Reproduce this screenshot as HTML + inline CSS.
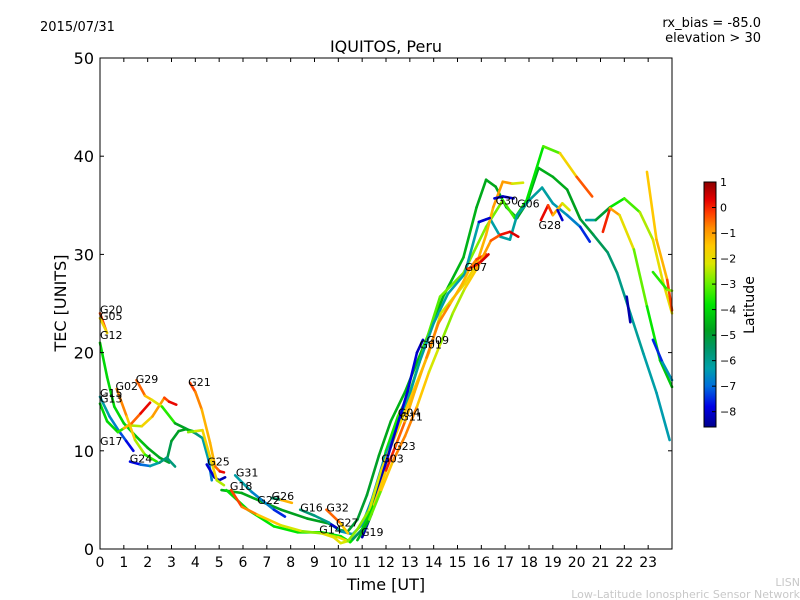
<!DOCTYPE html>
<html><head><meta charset="utf-8"><style>
body{margin:0;background:#fff;}
svg{display:block;font-family:"DejaVu Sans","Liberation Sans",sans-serif;}
</style></head><body>
<svg id="c" width="800" height="600" viewBox="0 0 800 600">
<text x="40" y="31" font-size="13">2015/07/31</text>
<text x="761" y="27" font-size="13" text-anchor="end">rx_bias = -85.0</text>
<text x="761" y="42" font-size="13" text-anchor="end">elevation &gt; 30</text>
<text x="386" y="52" font-size="16" text-anchor="middle">IQUITOS, Peru</text>
<text x="386" y="590" font-size="16" text-anchor="middle">Time [UT]</text>
<text x="0" y="0" font-size="16" text-anchor="middle" transform="translate(66,303) rotate(-90)">TEC [UNITS]</text>
<g id="marks"></g>
<g id="labels"></g>
<g id="axes"></g>
<g id="cbar"></g>
<text x="0" y="0" font-size="14" text-anchor="middle" transform="translate(754,305) rotate(-90)">Latitude</text>
<text x="800" y="586" font-size="11" fill="#c8c8c8" text-anchor="end">LISN</text>
<text x="800" y="598" font-size="11" fill="#c8c8c8" text-anchor="end">Low-Latitude Ionospheric Sensor Network</text>
</svg>
<script>
const xTicks=[0,1,2,3,4,5,6,7,8,9,10,11,12,13,14,15,16,17,18,19,20,21,22,23];
const yTicks=[0,10,20,30,40,50];
const cbTicks=[1,0,-1,-2,-3,-4,-5,-6,-7,-8];
const latMin=-8.6, latMax=1.0;
// tracks: time (UT), TEC, latitude
const trackNames=["G20","G05","G12","G15","G13","G02","Gr1","G29","G12b","G24","G21","G25","Gy1","G18a","TrA","G18b","G31","G26","G16","G32","G27","G14","G19","G03","G23","R1","R2","R3","R4","R5","R6","G30a","G30b","G28","Gb1","G07"];
const trackT=[
[0,0.25],[0,0.3],
[0,0.3,0.6,1,1.5,2,2.5,2.9],
[0,0.4,0.8,1.1,1.4],
[0,0.3,0.75,1.2,1.75,2.2,2.7,2.9,3.2],
[0.7,1.12,1.47,1.89,2.38],
[1.0,1.33,1.7,2.1],
[1.53,1.89,2.17,2.6,3.15,3.57,3.99,4.3,4.55,4.69],
[2.8,3.0,3.3,3.6,3.9],
[1.26,1.7,2.1,2.5,2.8,3.15],
[3.78,4.0,4.27,4.62,4.83,5.03,5.2],
[4.48,4.8,5.0,5.25],
[3.7,4.0,4.3,4.6,4.9,5.2],
[5.1,5.95,6.8,7.6,8.7,9.6,10.1,10.4,10.8,11.2,11.7,12.2,12.8,13.3,13.8,14.4,15.25,15.8,16.2,16.6,17.05,17.5,17.9,18.4,19.0,19.6,20.15,20.7,21.3,21.7,22.25,22.8,23.35,23.9],
[5.3,6.2,7.3,8.3,9.3,10.1,10.5,11,11.5,12,12.5,13,13.4,14.27,15.25,16.2,16.9,17.4,17.9,18.6,19.3,20.0,20.65],
[5.5,5.95,6.6,7.6,8.5,9.3,10.0,10.4],
[5.67,6.37,7.3,7.76],
[7.2,7.6,8.05],
[8.4,9.0,9.6,10.1,10.6,11.0,11.4,11.9,12.4,12.9,13.4,14,14.6,15.3,15.9,16.35,16.8,17.2,17.5,18.0,18.55,19.0,19.6,20.15,20.55],
[9.5,10.1,10.4],
[9.7,9.9],
[9.3,9.8,10.1,10.4,10.8,11.3,11.8,12.3,12.8,13.3,13.8,14.3,14.8,15.3,15.8,16.2,16.5,16.9,17.3,17.75],
[11.0,11.4,11.9,12.4,12.9,13.3,13.55],
[10.6,11,11.5,12,12.4,12.8,13.2,13.7,14.2,14.7,15.2,15.5,15.8,16.2],
[10.8,11.3,11.8,12.3,12.8,13.3,13.8,14.3,14.8,15.3,15.8,16.4,16.8,17.2,17.55],
[20.4,20.8,21.4,22.0,22.65,23.2,23.6,24],
[21.1,21.4,21.8,22.4,22.95,23.5,24],
[22.95,23.35,23.8,24],
[23.2,23.8,24],
[22.1,22.25],
[23.2,23.6,24],
[15.9,16.35],
[16.55,16.9,17.35],
[18.5,18.8,19.0,19.4,19.7],
[19.2,19.4],
[15.4,15.7,16.0,16.3]
];
const trackV=[
[24,22.3],[23.5,22],
[21,17.5,14.5,12.8,11.5,10.3,9.3,8.8],
[15.5,13.5,12,11,10],
[14.8,13,11.9,12.6,12.5,13.5,15.4,15,14.7],
[16.3,13.5,11.1,9.6,8.9],
[12.3,12.8,13.8,14.9],
[17.2,15.6,15.2,14.5,12.8,12.3,11.8,11.3,9.1,7.0],
[9,11,12,12.2,12],
[8.9,8.6,8.45,8.8,9.3,8.4],
[16.9,16,14.2,10.8,8.4,7.9,7.8],
[8.6,7.3,7.0,7.3],
[11.9,12.0,12.1,9.5,7,6.5],
[6.0,5.7,4.8,4.0,3.1,2.6,1.9,1.8,3,5.5,9.5,13,16,19,22,25.7,29.7,34.8,37.6,36.9,34.8,33.7,35.2,38.8,37.9,36.6,33.6,32.0,30.2,28.1,24.0,19.9,15.9,11.1],
[6.0,4.0,2.3,1.7,1.7,1.3,0.7,2,5,10,13.5,16,19,25.7,28.1,32.8,35.5,33.7,35.5,41.0,40.3,37.9,35.9],
[6.0,4.3,3.5,2.4,1.8,1.6,1.2,0.8],
[7.5,5.8,4.0,3.3],
[5.2,5.0,4.7],
[4.0,3.4,2.7,1.8,1.5,2.5,5,9,12,15,19,23,26,28,33.3,33.7,31.8,31.5,34,35.5,36.8,35.2,34,32.8,31.3],
[4.0,2.6,1.6],
[2.5,2.2],
[1.6,1.2,0.6,0.8,2,4,8,11,14,17,20,24,25.5,27,29,32,34.8,37.4,37.2,37.3],
[1.2,3.6,8,12,16,20,21.3],
[1.0,2,4.5,8,10.5,13,16,19.5,23,25,27,28.5,29.5,30],
[0.9,3,6,9,11.5,14.5,18,21,24,26.5,28.5,31.4,32,32.3,31.8],
[33.5,33.5,34.8,35.7,34.3,31.5,27.4,24],
[32.3,34.7,34,30.5,24.7,19.2,16.5],
[38.4,31.5,27.4,24.3],
[28.2,26.4,26.3],
[25.7,23.1],
[21.3,19,17.2],
[33.3,33.7],
[35.7,35.9,35.7],
[33.5,35.0,34,35.2,34.5],
[34.5,33.5],
[28.5,28.8,29.3,30]
];
const trackLat=[
[-1,0.5],[-2,-1.5],
[-4,-4,-4,-4,-4.2,-4.5,-4.8,-5],
[-6,-6.5,-7,-7.5,-8],
[-4,-4,-4,-3,-2,-1.5,-0.5,0,0.5],
[-0.5,-1,-2,-3,-4],
[-1.5,-1,0,0.5],
[0,-1,-1.8,-2.5,-4.5,-5,-5.5,-6,-6.5,-7],
[-5.5,-5,-4.8,-4.8,-4.5],
[-8,-7.5,-6.5,-6,-5.5,-6],
[0,-0.5,-1,-1.5,-1,0,0.5],
[-8,-8,-8.5,-8],
[-3,-2.5,-2,-1.5,-2,-3],
[-4.5,-4.6,-4.7,-4.8,-4.8,-4.8,-5,-5,-5,-5,-4.8,-4.6,-4.5,-4.5,-4.5,-4.5,-4.5,-4.6,-4.7,-4.7,-4.8,-4.8,-4.8,-4.6,-4.6,-4.7,-4.9,-5.2,-5.5,-5.8,-6,-6.2,-6.3,-6.4],
[-4,-3.8,-3.8,-3.8,-3.8,-3.8,-3.8,-3.8,-3.8,-3.8,-3.5,-3.3,-3.3,-3,-2.8,-2.8,-3,-3.5,-3.8,-3.8,-2.5,-1,0.2],
[0,-0.5,-1,-2,-2.5,-3,-2,-1.5],
[-6,-6.5,-7,-8],
[-8,-3,0.5],
[-5.5,-5.8,-6,-6.3,-6.5,-6.5,-6.5,-6.4,-6.3,-6.2,-6.2,-6.2,-6.3,-6.3,-6.3,-6.3,-6.2,-6.2,-6.2,-6.2,-6.1,-6.3,-6.5,-7,-8],
[0,-1,-2],
[-8,-8],
[-2,-2,-2,-2.5,-3,-2.5,-2,-2,-1.5,-1.5,-2,-2.5,-2,-2,-1.5,-1,-1.5,-0.5,-1.5,-3],
[-8.3,-8.3,-8.2,-8,-7.8,-8,-8.3],
[-6,-5,-3,0,0,-1,-1.5,-1,-0.5,-1,-1.5,-1,-0.5,0],
[-5,-4,-2,-1,-0.5,-1,-2,-2.5,-3,-2,-1.2,-0.8,0,0.3,0.5],
[-6.5,-6,-4,-3.5,-3,-2,-2,-2],
[0.5,-0.5,-1.5,-2.5,-3.5,-4,-4.5],
[-1.5,-1.5,-1,0.5],
[-4,-3,-2.5],
[-8.3,-8.3],
[-8,-7,-6],
[-8,-8],[-8,-8,-8],
[0,0.5,-1,-1.5,-3],
[-8,-8],
[-0.5,0,0.3,0.5]
];
const labelText=["G20","G05","G12","G15","G13","G02","G29","G21","G17","G24","G25","G31","G18","G22","G26","G16","G32","G27","G14","G19","G03","G23","G04","G11","G01","G09","G07","G30","G06","G28"];
const labelT=[0,0,0,0,0,0.65,1.5,3.7,0,1.25,4.5,5.7,5.45,6.6,7.2,8.4,9.5,9.9,9.2,10.95,11.8,12.3,12.5,12.6,13.4,13.7,15.3,16.6,17.5,18.4];
const labelV=[24,23.3,21.4,15.5,14.9,16.2,16.9,16.6,10.6,8.8,8.5,7.4,6.0,4.6,5.0,3.8,3.8,2.3,1.6,1.3,8.8,10.1,13.5,13.1,20.4,20.9,28.3,35.1,34.8,32.6];

const X0=100,X1=672,Y0=549,Y1=58;
const xs=t=>X0+t*(X1-X0)/24;
const ys=v=>Y0-v*(Y0-Y1)/50;
const cbTop=182,cbBot=427;
const cy=l=>cbTop+(latMax-l)*(cbBot-cbTop)/(latMax-latMin);
const stops=[[-8.6,[0,0,140]],[-7.8,[0,0,230]],[-7.0,[0,110,220]],[-6.3,[0,160,170]],[-5.5,[0,150,100]],[-4.8,[0,160,30]],[-3.8,[0,230,0]],[-3.0,[100,240,0]],[-2.2,[220,230,0]],[-1.5,[255,200,0]],[-0.8,[255,140,0]],[-0.2,[255,60,0]],[0.3,[230,0,0]],[1.0,[140,0,0]]];
function col(l){
 if(l<=stops[0][0])return 'rgb('+stops[0][1]+')';
 for(let i=1;i<stops.length;i++){if(l<=stops[i][0]){const a=stops[i-1],b=stops[i],f=(l-a[0])/(b[0]-a[0]);
  return 'rgb('+a[1].map((c,k)=>Math.round(c+f*(b[1][k]-c))).join(',')+')';}}
 return 'rgb('+stops[stops.length-1][1]+')';
}
const NS="http://www.w3.org/2000/svg";
function mk(tag,attrs,parent){const e=document.createElementNS(NS,tag);for(const k in attrs)e.setAttribute(k,attrs[k]);parent.appendChild(e);return e;}
const marks=document.getElementById('marks');
trackT.forEach((ts,i)=>{
 const g=mk('g',{},marks);
 
 
 for(let j=0;j<ts.length-1;j++){
  const seg=mk('line',{x1:xs(ts[j]),y1:ys(trackV[i][j]),x2:xs(ts[j+1]),y2:ys(trackV[i][j+1]),stroke:col((trackLat[i][j]+trackLat[i][j+1])/2),'stroke-width':2.6,'stroke-linecap':'round'},g);
  
  
 }
});
const lab=document.getElementById('labels');
labelText.forEach((s,i)=>{
 const t=mk('text',{x:xs(labelT[i]),y:ys(labelV[i]),'font-size':11,fill:'#000'},lab);
 t.textContent=s;
 
 
});
const ax=document.getElementById('axes');
const fr=mk('rect',{x:X0,y:Y1,width:X1-X0,height:Y0-Y1,fill:'none',stroke:'#000','stroke-width':1},ax);


xTicks.forEach(t=>{
 mk('line',{x1:xs(t),x2:xs(t),y1:Y0,y2:Y0-4,stroke:'#000'},ax);
 mk('line',{x1:xs(t),x2:xs(t),y1:Y1,y2:Y1+4,stroke:'#000'},ax);
 const tx=mk('text',{x:xs(t),y:Y0+18,'font-size':14,'text-anchor':'middle'},ax);
 tx.textContent=t;
 
 
});
yTicks.forEach(v=>{
 mk('line',{x1:X0,x2:X0+4,y1:ys(v),y2:ys(v),stroke:'#000'},ax);
 mk('line',{x1:X1,x2:X1-4,y1:ys(v),y2:ys(v),stroke:'#000'},ax);
 const tx=mk('text',{x:X0-6,y:ys(v)+6,'font-size':16,'text-anchor':'end'},ax);
 tx.textContent=v;
 
 
});
const cb=document.getElementById('cbar');
for(let y=cbTop;y<cbBot;y++){
 const l=latMax-(y+0.5-cbTop)*(latMax-latMin)/(cbBot-cbTop);
 mk('rect',{x:704,y:y,width:12,height:1.2,fill:col(l)},cb);
}
const cbf=mk('rect',{x:704,y:cbTop,width:12,height:cbBot-cbTop,fill:'none',stroke:'#000'},cb);


cbTicks.forEach(l=>{
 mk('line',{x1:712,x2:716,y1:cy(l),y2:cy(l),stroke:'#000'},cb);
 const tx=mk('text',{x:720,y:cy(l)+4,'font-size':11},cb);
 tx.textContent=l<0?'\u2212'+(-l):l;
 
 
});
</script>
</body></html>
